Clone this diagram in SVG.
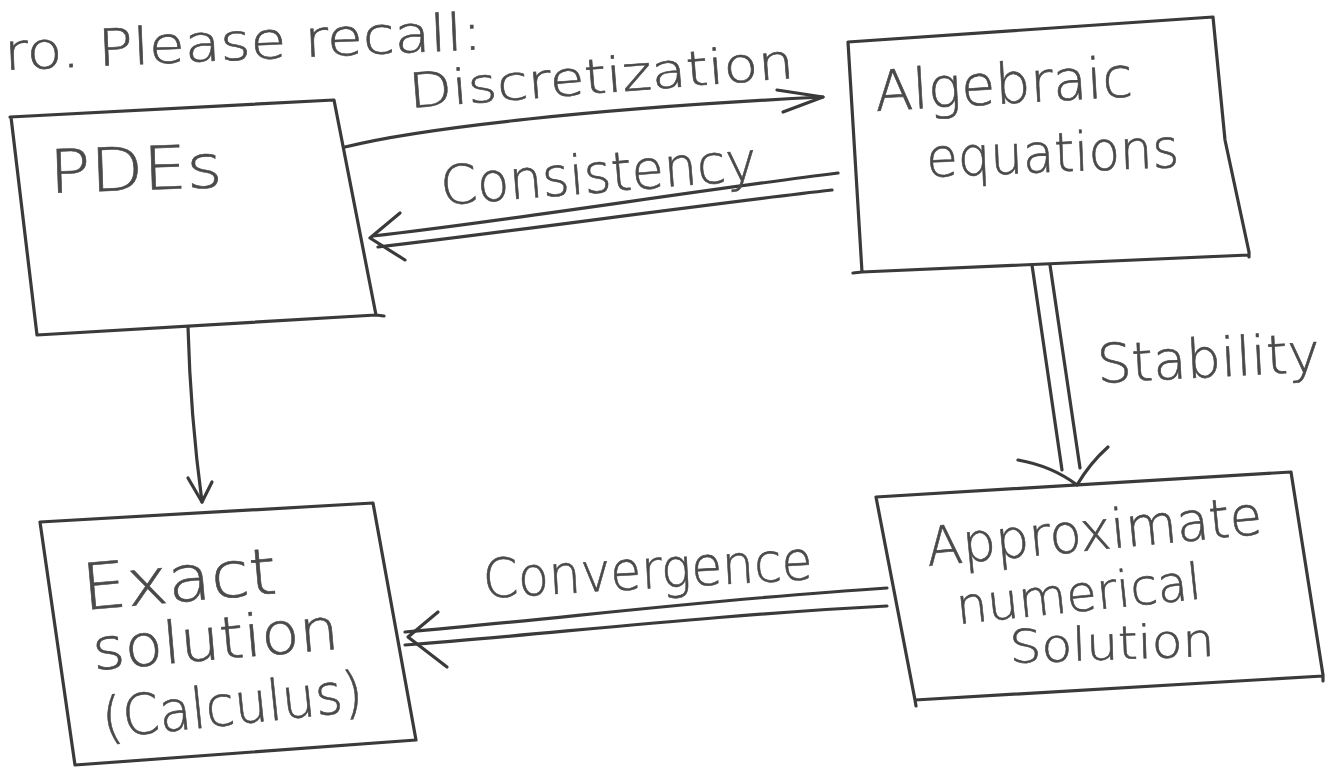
<svg xmlns="http://www.w3.org/2000/svg" width="1336" height="769" viewBox="0 0 1336 769">
<style>
.box{fill:none;stroke:#3a3a3a;stroke-width:3.2;stroke-linejoin:round;stroke-linecap:round}
.ln{fill:none;stroke:#3a3a3a;stroke-width:3.2;stroke-linecap:round;stroke-linejoin:round}
.t{font-family:"DejaVu Sans","Liberation Sans",sans-serif;font-weight:200;fill:#4a4a4a;stroke:#4a4a4a;stroke-width:0.6}
</style>
<rect width="1336" height="769" fill="#ffffff"/>
<text class="t" x="5" y="70" font-size="51" textLength="478" lengthAdjust="spacingAndGlyphs" transform="rotate(-2.5 5 70)">ro. Please recall:</text>

<g id="pdes">
<path class="box" d="M10,117 L334,100 L376,315 L384,316 M376,315 L37,335 L11,117"/>
<text class="t" x="50" y="193" font-size="60" textLength="173" lengthAdjust="spacingAndGlyphs" transform="rotate(-2 50 193)">PDEs</text>
</g>

<g id="algebraic">
<path class="box" d="M848,42 L1213,17 L1225,140 L1249,252 L1249,257 M1249,255 L862,272 L853,273 M862,272 L848,42"/>
<text class="t" x="876" y="111" font-size="56" textLength="258" lengthAdjust="spacingAndGlyphs" transform="rotate(-3.3 876 111)">Algebraic</text>
<text class="t" x="927" y="177" font-size="54" textLength="253" lengthAdjust="spacingAndGlyphs" transform="rotate(-2.3 927 177)">equations</text>
</g>

<g id="exact">
<path class="box" d="M40,522 L373,503 L416,740 L75,765 L40,522"/>
<text class="t" x="84" y="610" font-size="64" textLength="195" lengthAdjust="spacingAndGlyphs" transform="rotate(-5 84 610)">Exact</text>
<text class="t" x="94" y="670" font-size="58" textLength="247" lengthAdjust="spacingAndGlyphs" transform="rotate(-5 94 670)">solution</text>
<text class="t" x="104" y="738" font-size="56" textLength="262" lengthAdjust="spacingAndGlyphs" transform="rotate(-6 104 738)">(Calculus)</text>
</g>

<g id="approx">
<path class="box" d="M876,497 L1291,472 L1323,675 L1323,681 M1323,676 L915,700 L916,706 M915,700 L876,497"/>
<text class="t" x="928" y="566" font-size="54" textLength="337" lengthAdjust="spacingAndGlyphs" transform="rotate(-5.5 928 566)">Approximate</text>
<text class="t" x="958" y="624" font-size="50" textLength="246" lengthAdjust="spacingAndGlyphs" transform="rotate(-6 958 624)">numerical</text>
<text class="t" x="1010" y="663" font-size="46" textLength="205" lengthAdjust="spacingAndGlyphs" transform="rotate(-2 1010 663)">Solution</text>
</g>

<g id="connectors">
<g id="discretization">
<path class="ln" stroke-width="4" d="M345,147 C420,128 600,108 823,97"/>
<path class="ln" stroke-width="4.5" d="M777,90 L823,97 L783,112"/>
<text class="t" x="410" y="108" font-size="48" textLength="386" lengthAdjust="spacingAndGlyphs" transform="rotate(-4.5 410 108)">Discretization</text>
</g>
<g id="consistency">
<path class="ln" d="M838,173 C700,190 500,222 373,236"/>
<path class="ln" d="M832,190 C700,205 500,233 378,247"/>
<path class="ln" d="M400,213 L370,238 L405,260"/>
<text class="t" x="442" y="205" font-size="54" textLength="317" lengthAdjust="spacingAndGlyphs" transform="rotate(-4.6 442 205)">Consistency</text>
</g>
<g id="stability">
<path class="ln" d="M1032,265 L1062,470"/>
<path class="ln" d="M1050,265 L1080,468"/>
<path class="ln" d="M1018,460 Q1052,466 1077,485 Q1090,463 1108,447"/>
<text class="t" x="1098" y="383" font-size="54" textLength="223" lengthAdjust="spacingAndGlyphs" transform="rotate(-3 1098 383)">Stability</text>
</g>
<g id="convergence">
<path class="ln" d="M887,588 C700,600 550,620 405,632"/>
<path class="ln" d="M887,606 C700,616 550,634 405,645"/>
<path class="ln" d="M438,612 L408,637 L447,667"/>
<text class="t" x="484" y="598" font-size="54" textLength="330" lengthAdjust="spacingAndGlyphs" transform="rotate(-3.3 484 598)">Convergence</text>
</g>
<g id="pdes-exact">
<path class="ln" d="M188,327 C190,400 195,450 202,502"/>
<path class="ln" d="M188,478 L202,502 L212,482"/>
</g>
</g>
</svg>
